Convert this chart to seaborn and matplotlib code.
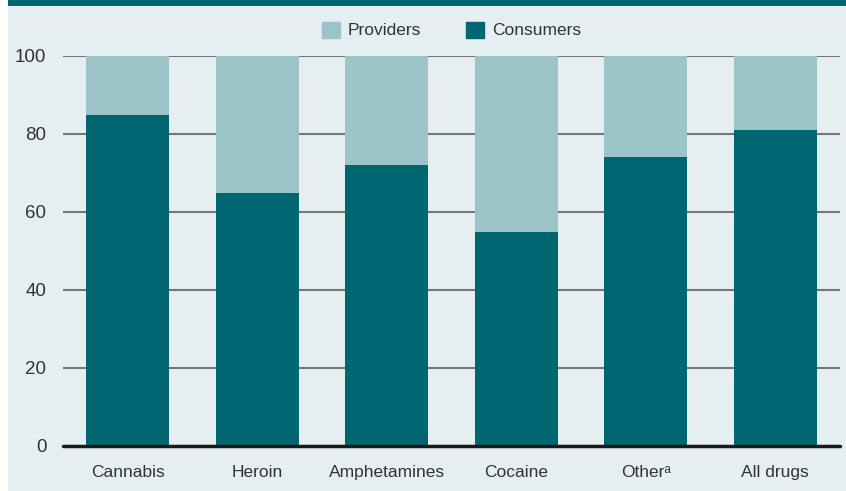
import matplotlib
matplotlib.use("Agg")
import matplotlib.pyplot as plt
import matplotlib.patches as mpatches
import seaborn as sns
import pandas as pd

categories = ["Cannabis", "Heroin", "Amphetamines", "Cocaine", "Other\u1d43", "All drugs"]
consumers = [85, 65, 72, 55, 74, 81]
providers = [15, 35, 28, 45, 26, 19]
yticks = [0, 20, 40, 60, 80, 100]

C_CONS = "#00666F"
C_PROV = "#9CC4C8"
BG = "#E5EEF0"
TXT = "#333333"

sns.set_theme(style="white")
plt.rcParams["font.family"] = ["Liberation Sans", "DejaVu Sans"]

df = pd.DataFrame({
    "cat": categories,
    "cons": consumers,
    "total": [c + p for c, p in zip(consumers, providers)],
})

fig = plt.figure(figsize=(8.46, 4.91), dpi=100)
fig.patch.set_facecolor("white")
fig.add_artist(mpatches.Rectangle((8 / 846, 0), 1 - 8 / 846, 1, transform=fig.transFigure,
                                  facecolor=BG, edgecolor="none", zorder=-10))
fig.add_artist(mpatches.Rectangle((8 / 846, 1 - 6 / 491), 1 - 8 / 846, 6 / 491, transform=fig.transFigure,
                                  facecolor=C_CONS, edgecolor="none", zorder=-9))

ax = fig.add_axes([63 / 846, 1 - 446 / 491, (840 - 63) / 846, (446 - 56) / 491])
ax.set_facecolor("none")

sns.barplot(data=df, x="cat", y="total", color=C_PROV, width=0.64, ax=ax,
            saturation=1, zorder=3, linewidth=0)
sns.barplot(data=df, x="cat", y="cons", color=C_CONS, width=0.64, ax=ax,
            saturation=1, zorder=3, linewidth=0)

ax.set_ylim(0, 100)
ax.set_xlim(-0.5, len(categories) - 0.5)
ax.set_yticks(yticks)
ax.set_yticklabels([str(v) for v in yticks])
ax.set_xlabel("")
ax.set_ylabel("")
for s in ax.spines.values():
    s.set_visible(False)
for y in yticks[1:]:
    ax.axhline(y, color="#777777", lw=1.5, zorder=1)
ax.axhline(0, color="#1a1a1a", lw=2.5, zorder=5, clip_on=False)
ax.tick_params(axis="both", length=0, colors=TXT)
ax.tick_params(axis="y", pad=12, labelsize=13.5)
ax.tick_params(axis="x", pad=14, labelsize=12.5)

handles = [mpatches.Patch(color=C_PROV, label="Providers"),
           mpatches.Patch(color=C_CONS, label="Consumers")]
ax.legend(handles=handles, loc="center", bbox_to_anchor=(0.5, 1 + 26 / 390), ncol=2,
          frameon=False, fontsize=12.5, handlelength=1.05, handleheight=1.05,
          handletextpad=0.45, columnspacing=2.6, labelcolor=TXT)

fig.savefig("out.png", dpi=100, facecolor="white")
